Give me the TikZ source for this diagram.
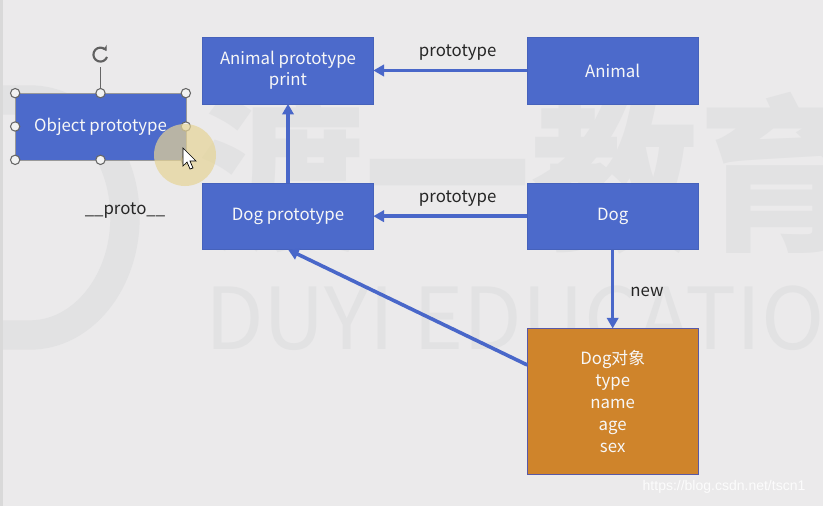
\documentclass[tikz,border=0pt]{standalone}
\usepackage{fontspec}
\setmainfont{Noto Sans CJK SC}
\newfontfamily\urlfont{Liberation Sans}
\usetikzlibrary{arrows.meta,positioning,calc}

\definecolor{boxblue}{RGB}{76,106,203}
\definecolor{arrblue}{RGB}{73,103,201}
\definecolor{objorange}{RGB}{207,132,43}
\definecolor{canvas}{RGB}{235,234,235}
\definecolor{wmark}{RGB}{226,226,227}
\definecolor{spot}{RGB}{230,212,150}

\begin{document}
\begin{tikzpicture}[
  x=0.75pt, y=-0.75pt,
  font=\fontsize{12.6}{15.5}\selectfont,
  box/.style={fill=boxblue, draw=boxblue!92!black, line width=0.4pt, text=white!94!gray,
              align=center, minimum width=128pt, minimum height=50pt,
              inner sep=0pt, outer sep=0pt},
  objbox/.style={box, fill=objorange, draw=gray!70!blue,
                 minimum height=109.5pt, font=\fontsize{12.6}{16.5}\selectfont},
  lbl/.style={text=black!85, inner sep=1pt},
  arr/.style={-{Triangle[length=8pt,width=8.5pt]}, line width=2.7pt, draw=arrblue},
  handle/.style={circle, draw=gray!80!black, fill=gray!10, line width=0.8pt,
                 minimum size=7pt, inner sep=0pt},
  node distance=59.25pt and 115.5pt
]
\fill[canvas] (0,0) rectangle (823,506);
\useasboundingbox (0,0) rectangle (823,506);
\fill[gray!30] (0,0) rectangle (3,506);

% watermark behind the diagram
\begin{scope}
  \clip (3,0) rectangle (823,506);
  \draw[wmark, line width=22pt] (-10,100) -- (30,100)
    arc[start angle=-90, end angle=90, x radius=95, y radius=117.5] -- (-10,335);
  \node[anchor=west, text=wmark, inner sep=0pt,
        font=\fontsize{125}{125}\bfseries\selectfont] (wmcn) at (198,173) {渡一教育};
  \node[anchor=west, text=wmark, inner sep=0pt,
        font=\fontsize{64}{64}\selectfont] (wmen) at (205,318) {DUYI EDUCATION};
\end{scope}

\node[box] (aproto) at (288,70.5) {Animal prototype\\ print};
\node[box, right=of aproto] (animal) {Animal};
\node[box, below=of aproto] (dproto) {Dog prototype};
\node[box, right=of dproto] (dog) {Dog};
\node[objbox, below=of dog] (dogobj) {Dog对象\\ type\\ name\\ age\\ sex};
\node[box, draw=gray!80] (object) at (100.5,126.5) {Object prototype};
\node[lbl] (protolbl) at (125,211) {\_\_proto\_\_};

\draw[arr] (animal) -- node[lbl, above=5pt, xshift=5.5pt] {prototype} (aproto);
\draw[arr] (dog) -- node[lbl, above=5pt, xshift=5.5pt] {prototype} (dproto);
\draw[arr] (dproto) -- (aproto);
\draw[arr] (dog) -- node[lbl, right=11pt, yshift=-2pt] {new} (dogobj);
\draw[arr] ($(dogobj.north west)!0.25!(dogobj.south west)$) -- (dproto.south);

% selection handles of the picked box
\coordinate (rot) at (100.5,67);
\draw[gray!80!black, line width=0.6pt] (object.north) -- (rot);
\draw[gray!75!black, line width=1.6pt, -{Stealth[length=4pt,width=5pt]}]
  (107,57) arc[start angle=20, end angle=330, radius=7];
\foreach \a in {north west,north,north east,west,east,south west,south,south east}
  \node[handle] at (object.\a) {};

\fill[spot, opacity=0.7] (185,155) circle[radius=31];
\filldraw[fill=white, draw=black, line width=0.5pt]
  (183,148) -- (183,166) -- (187,162) -- (190,169) -- (193,168) -- (190,161) -- (196,161) -- cycle;

\node[text=white, opacity=0.85, font=\urlfont\fontsize{10.5}{12}\selectfont] (url)
  at (724,487) {https://blog.csdn.net/tscn1};
\end{tikzpicture}
\end{document}
